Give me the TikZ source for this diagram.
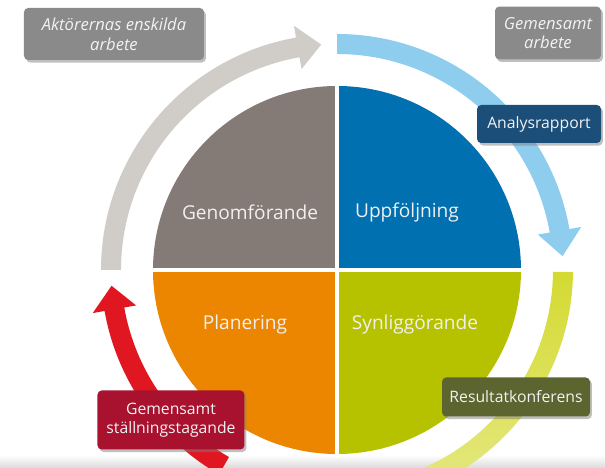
\documentclass[tikz,border=0pt]{standalone}
\usepackage{fontspec}
\setmainfont{Open Sans}
\usetikzlibrary{shadows}
\definecolor{genomcol}{RGB}{133,123,118}
\definecolor{uppcol}{RGB}{0,112,176}
\definecolor{plancol}{RGB}{236,133,0}
\definecolor{syncol}{RGB}{182,194,0}
\definecolor{grayarc}{RGB}{208,205,201}
\definecolor{bluearc}{RGB}{142,205,238}
\definecolor{yelarc}{RGB}{212,218,50}
\definecolor{redarc}{RGB}{224,22,32}
\definecolor{boxgray}{RGB}{138,138,138}
\definecolor{boxblue}{RGB}{28,78,122}
\definecolor{boxolive}{RGB}{92,101,48}
\definecolor{boxred}{RGB}{168,18,46}

\begin{document}
\begin{tikzpicture}[
  quad/.style={text=white!94!black, font=\fontsize{13.6}{16}\selectfont},
  labelbox/.style={rounded corners=3pt, text=white!95!black, align=center, inner sep=2pt,
    font=\fontsize{11.2}{13.5}\selectfont,
    drop shadow={opacity=0.5, shadow xshift=1.4pt, shadow yshift=-1.8pt}}]
  \def\R{4.6};
  \def\ri{5.4};
  \def\ro{5.9};
  \def\rm{5.65};
  \def\hi{5.1};
  \def\ho{6.2};
  \useasboundingbox (-8.425,-4.95) rectangle (6.7,6.75);
  \clip (-8.425,-4.95) rectangle (6.7,6.75);
  \shade[top color=white, bottom color=black!14] (-8.425,-4.95) rectangle (6.7,-4.62);
  %outer ring
  \fill[grayarc] (180:\ri) arc[start angle=180, end angle=100, radius=\ri]
    -- (100:\hi) -- (94:\rm) -- (100:\ho) -- (100:\ro)
    arc[start angle=100, end angle=180, radius=\ro] -- cycle;
  \fill[bluearc] (90:\ri) arc[start angle=90, end angle=10, radius=\ri]
    -- (10:\hi) -- (3.5:\rm) -- (10:\ho) -- (10:\ro)
    arc[start angle=10, end angle=90, radius=\ro] -- cycle;
  \shade[top color=yelarc, bottom color=yelarc!60] (-0.5:\ri) arc[start angle=-0.5, end angle=-80, radius=\ri]
    -- (-80:\ro) arc[start angle=-80, end angle=-0.5, radius=\ro] -- cycle;
  \fill[redarc] (240:\ri) arc[start angle=240, end angle=190, radius=\ri]
    -- (190:\hi) -- (184:\rm) -- (190:\ho) -- (190:\ro)
    arc[start angle=190, end angle=240, radius=\ro] -- cycle;
  %quadrants
  \fill[genomcol] (0,0) -- (90:\R) arc[start angle=90, end angle=180, radius=\R] -- cycle;
  \fill[uppcol] (0,0) -- (0:\R) arc[start angle=0, end angle=90, radius=\R] -- cycle;
  \fill[plancol] (0,0) -- (180:\R) arc[start angle=180, end angle=270, radius=\R] -- cycle;
  \fill[syncol] (0,0) -- (270:\R) arc[start angle=270, end angle=360, radius=\R] -- cycle;
  \draw[white, line width=2.2pt] (-\R-0.1,0) -- (\R+0.1,0);
  \draw[white, line width=2.2pt] (0,-\R-0.1) -- (0,\R+0.1);
  \node[quad] (genom) at (-2.175,1.45) {Genomförande};
  \node[quad] (upp) at (1.75,1.45) {Uppföljning};
  \node[quad] (plan) at (-2.3,-1.375) {Planering};
  \node[quad] (syn) at (1.95,-1.375) {Synliggörande};
  %labels
  \node[labelbox, fill=boxgray, minimum width=4.5cm, minimum height=1.3cm,
    font=\fontsize{11.8}{14}\selectfont\itshape] (aktor) at (-5.575,5.9) {Aktörernas enskilda\\arbete};
  \node[labelbox, fill=boxgray, minimum width=2.65cm, minimum height=1.32cm,
    font=\fontsize{11.8}{14}\selectfont\itshape] (gemarb) at (5.275,5.925) {Gemensamt\\arbete};
  \node[labelbox, fill=boxblue, minimum width=3.1cm, minimum height=0.95cm] (analys) at (5.05,3.65) {Analysrapport};
  \node[labelbox, fill=boxolive, minimum width=3.7cm, minimum height=0.975cm] (result) at (4.475,-3.175) {Resultatkonferens};
  \node[labelbox, fill=boxred, minimum width=3.675cm, minimum height=1.475cm] (stall) at (-4.15,-3.75) {Gemensamt\\ställningstagande};
\end{tikzpicture}
\end{document}
